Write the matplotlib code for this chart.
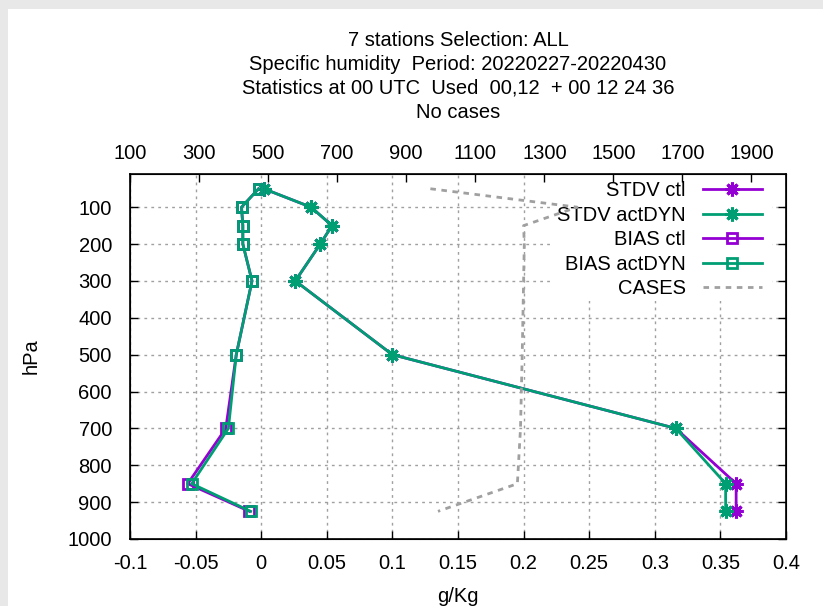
import matplotlib
matplotlib.use("Agg")
import matplotlib.pyplot as plt
from matplotlib.patches import Rectangle

plt.rcParams['font.family'] = ['Liberation Sans', 'DejaVu Sans']

# ---- data ----
pressure = [50, 100, 150, 200, 300, 500, 700, 850, 925]
stdv_ctl = [0.002, 0.038, 0.054, 0.045, 0.026, 0.100, 0.316, 0.362, 0.362]
stdv_act = [0.002, 0.038, 0.054, 0.045, 0.026, 0.100, 0.316, 0.354, 0.354]
bias_ctl = [-0.002, -0.015, -0.014, -0.014, -0.007, -0.019, -0.027, -0.056, -0.009]
bias_act = [-0.002, -0.015, -0.014, -0.014, -0.007, -0.019, -0.025, -0.053, -0.008]
cases = [970, 1395, 1240, 1242, 1240, 1236, 1231, 1222, 992]

title_lines = ["7 stations Selection: ALL",
               "Specific humidity  Period: 20220227-20220430",
               "Statistics at 00 UTC  Used  00,12  + 00 12 24 36",
               "No cases"]
xticks = [-0.1, -0.05, 0, 0.05, 0.1, 0.15, 0.2, 0.25, 0.3, 0.35, 0.4]
xticklabels = ["-0.1", "-0.05", "0", "0.05", "0.1", "0.15", "0.2", "0.25", "0.3", "0.35", "0.4"]
yticks = [100, 200, 300, 400, 500, 600, 700, 800, 900, 1000]
x2ticks = [100, 300, 500, 700, 900, 1100, 1300, 1500, 1700, 1900]

purple = '#9400d3'
green = '#009e73'
gray = '#a0a0a0'
FS = 14.5

W, H = 823, 606
fig = plt.figure(figsize=(W / 100, H / 100), dpi=100)
fig.patch.set_facecolor('#e8e8e8')
fig.patches.append(Rectangle((8 / W, 0), 1, (H - 9) / H, transform=fig.transFigure,
                             facecolor='white', edgecolor='none', zorder=-5))

L, R, T, B = 130, 786, 174, 539
AW, AH = R - L, B - T
ax = fig.add_axes([L / W, (H - B) / H, AW / W, AH / H])
ax.set_facecolor('white')

star = (8, 2, 0)
ax.plot(stdv_ctl, pressure, color=purple, lw=2, marker=star, ms=10, mew=2.2, label='STDV ctl')
ax.plot(stdv_act, pressure, color=green, lw=2, marker=star, ms=10, mew=2.2, label='STDV actDYN')
ax.plot(bias_ctl, pressure, color=purple, lw=2, marker='s', ms=7, mew=2, mfc='none', label='BIAS ctl')
ax.plot(bias_act, pressure, color=green, lw=2, marker='s', ms=7, mew=2, mfc='none', label='BIAS actDYN')

ax.set_xlim(-0.1, 0.4)
ax.set_ylim(1000, 10)
ax.set_xticks(xticks)
ax.set_xticklabels(xticklabels, fontsize=FS)
ax.set_yticks(yticks)
ax.set_yticklabels([str(v) for v in yticks], fontsize=FS)
ax.tick_params(direction='in', length=6, width=1, top=True, right=True)
ax.tick_params(axis='y', pad=13)
ax.tick_params(axis='x', pad=11)
ax.grid(True, color=gray, linestyle=(0, (2, 3)), lw=1)
for s in ax.spines.values():
    s.set_linewidth(1.2)

ax.set_ylabel('hPa', fontsize=FS)
ax.yaxis.set_label_coords((41 - L) / AW, 0.5)

# opaque key background (covers grid only)
ax.add_patch(Rectangle(((550 - L) / AW, 1 - (301 - T) / AH), (772 - 550) / AW, (301 - T) / AH,
                       transform=ax.transAxes, facecolor='white', edgecolor='none', zorder=1.7))

ax2 = ax.twiny()
ax2.plot(cases, pressure, color=gray, lw=2, linestyle=(0, (2.0, 2.0)), label='CASES')
ax2.set_xlim(100, 2000)
ax2.set_ylim(1000, 10)
ax2.set_xticks(x2ticks)
ax2.set_xticklabels([str(v) for v in x2ticks], fontsize=FS)
ax2.tick_params(direction='in', length=6, width=1, pad=8)

handles = ax.get_legend_handles_labels()[0] + ax2.get_legend_handles_labels()[0]
labels = ['STDV ctl', 'STDV actDYN', 'BIAS ctl', 'BIAS actDYN', 'CASES']
leg = ax.legend(handles, labels, loc='upper right',
                bbox_to_anchor=((774 - L) / AW, 1 + 5 / AH),
                markerfirst=False, numpoints=1, handlelength=2.9, handletextpad=0.85,
                labelspacing=0.27, borderpad=0.12, fontsize=FS, frameon=False)

fig.text((L + R) / 2 / W, (H - 602) / H, 'g/Kg', fontsize=FS, ha='center', va='baseline')

ys = [41, 64, 88, 112]
for line, y in zip(title_lines, ys):
    fig.text(458 / W, (H - y) / H, line, fontsize=FS, ha='center', va='center')

fig.savefig('out.png', dpi=100, facecolor=fig.get_facecolor())
